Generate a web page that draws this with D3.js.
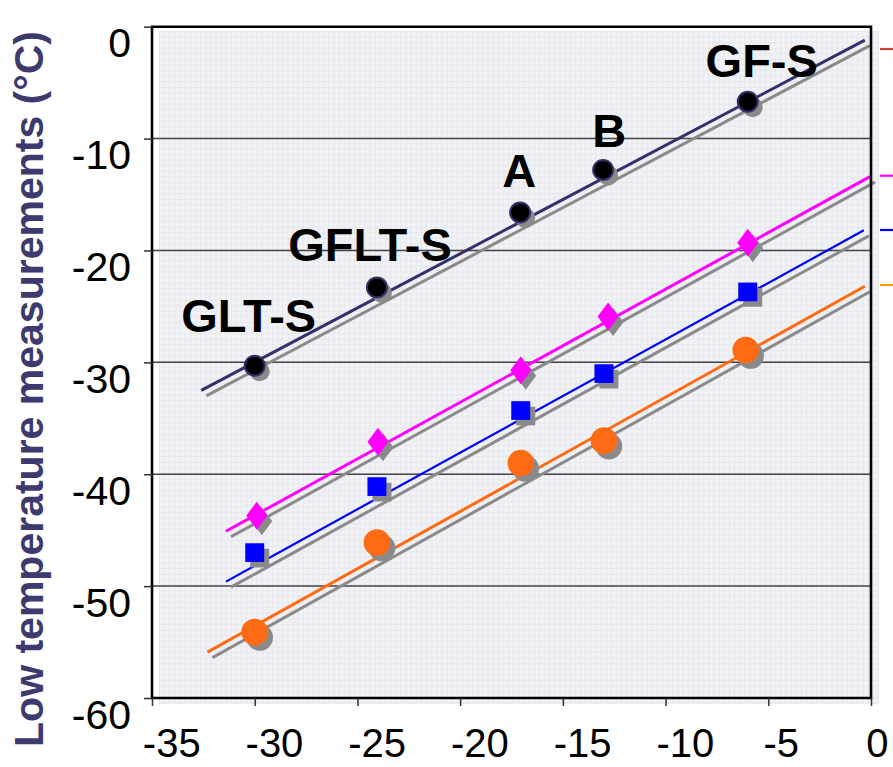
<!DOCTYPE html>
<html>
<head>
<meta charset="utf-8">
<script src="https://cdn.jsdelivr.net/npm/d3@7/dist/d3.min.js"></script>
<style>
  html, body { margin: 0; padding: 0; background: #fff; }
  svg { display: block; }
  text { font-family: "Liberation Sans", Arial, sans-serif; }
</style>
</head>
<body>
<svg id="chart" width="893" height="767"></svg>
<script>
// ---- data ----
const xTicks = [-35, -30, -25, -20, -15, -10, -5, 0];
const yTicks = [0, -10, -20, -30, -40, -50, -60];
const yGrid = [-10, -20, -30, -40, -50];

const pointLabels = ["GLT-S", "GFLT-S", "A", "B", "GF-S"];

const blackX   = [-30.0, -24.05, -17.08, -13.04, -6.0];
const blackY   = [-30.3, -23.3, -16.6, -12.8, -6.7];
const magentaX = [-29.9, -24.0, -17.05, -12.8, -6.0];
const magentaY = [-43.7, -37.1, -30.7, -25.9, -19.3];
const blueX    = [-30.0, -24.05, -17.05, -13.0, -6.0];
const blueY    = [-47.0, -41.1, -34.3, -31.0, -23.7];
const orangeX  = [-30.0, -24.05, -17.05, -13.0, -6.1];
const orangeY  = [-54.1, -46.1, -39.0, -37.0, -28.9];

// trend lines: [x0, y0, x1, y1] in data units
const blackTrend   = [-32.6, -32.5, -0.3, -1.2];
const magentaTrend = [-31.4, -45.1, -0.05, -13.4];
const blueTrend    = [-31.4, -49.6, -0.35, -18.2];
const orangeTrend  = [-32.3, -55.9, -0.3, -23.2];

const legendNames = ["GF-S line", "Series 2", "Series 3", "Series 4"];

// ---- drawing ----
const svg = d3.select("#chart");
const x = d3.scaleLinear().domain([-35, 0]).range([152, 871]);
const y = d3.scaleLinear().domain([-60, 0]).range([698, 26.7]);

// background texture
const defs = svg.append("defs");
const pat = defs.append("pattern").attr("id", "tex")
  .attr("patternUnits", "userSpaceOnUse").attr("width", 10.27).attr("height", 11.19)
  .attr("x", 159).attr("y", 31);
pat.append("rect").attr("width", 10.27).attr("height", 11.19).attr("fill", "#f1f2f5");
pat.append("path").attr("d", "M0,0.5 H10.27 M0.5,0 V11.19 M0,6 H10.27 M5.6,0 V11.19")
  .attr("stroke", "#e3e5ea").attr("stroke-width", 0.8).attr("fill", "none");

svg.append("rect").attr("x", 159).attr("y", 31).attr("width", 720).attr("height", 673)
  .attr("fill", "url(#tex)");

// major gridlines
svg.append("g").selectAll("line").data(yGrid).join("line")
  .attr("x1", x(-35)).attr("x2", x(0))
  .attr("y1", d => y(d)).attr("y2", d => y(d))
  .attr("stroke", "#444").attr("stroke-width", 1.5);

// series definitions
const series = [
  { xs: blackX,   ys: blackY,   trend: blackTrend,   color: "#34306a", lw: 3,   marker: "blackcircle" },
  { xs: magentaX, ys: magentaY, trend: magentaTrend, color: "#ff00ff", lw: 3,   marker: "diamond" },
  { xs: blueX,    ys: blueY,    trend: blueTrend,    color: "#0000ff", lw: 2.2, marker: "square" },
  { xs: orangeX,  ys: orangeY,  trend: orangeTrend,  color: "#ff6a14", lw: 3,   marker: "circle" }
];

const shadowColor = "#8a8a8a";

// trend shadow lines
svg.append("g").attr("transform", "translate(5,5.5)")
  .selectAll("line").data(series).join("line")
  .attr("x1", d => x(d.trend[0])).attr("y1", d => y(d.trend[1]))
  .attr("x2", d => x(d.trend[2])).attr("y2", d => y(d.trend[3]))
  .attr("stroke", shadowColor).attr("stroke-width", 3);

// trend lines
svg.append("g").selectAll("line").data(series).join("line")
  .attr("x1", d => x(d.trend[0])).attr("y1", d => y(d.trend[1]))
  .attr("x2", d => x(d.trend[2])).attr("y2", d => y(d.trend[3]))
  .attr("stroke", d => d.color).attr("stroke-width", d => d.lw);

function drawMarker(g, type, px, py, fill, stroke) {
  if (type === "blackcircle") {
    g.append("circle").attr("cx", px).attr("cy", py).attr("r", 10)
      .attr("fill", fill).attr("stroke", stroke || "none").attr("stroke-width", 2);
  } else if (type === "circle") {
    g.append("circle").attr("cx", px).attr("cy", py).attr("r", 13.3).attr("fill", fill);
  } else if (type === "square") {
    g.append("rect").attr("x", px - 9.5).attr("y", py - 9.3).attr("width", 19).attr("height", 18.7).attr("fill", fill);
  } else if (type === "diamond") {
    g.append("path").attr("d", `M${px},${py - 14} L${px + 10.5},${py} L${px},${py + 14} L${px - 10.5},${py} Z`).attr("fill", fill);
  }
}

// marker shadows
const shadowG = svg.append("g").attr("transform", "translate(5,5.5)");
series.forEach(s => {
  s.xs.forEach((xv, i) => drawMarker(shadowG, s.marker, x(xv), y(s.ys[i]), shadowColor));
});
// markers
const markG = svg.append("g");
series.forEach(s => {
  s.xs.forEach((xv, i) => {
    if (s.marker === "blackcircle") drawMarker(markG, s.marker, x(xv), y(s.ys[i]), "#000", "#34306a");
    else drawMarker(markG, s.marker, x(xv), y(s.ys[i]), s.color);
  });
});

// frame
svg.append("path")
  .attr("d", `M${x(-35)},${y(0)} H${x(0)} V${y(-60)} H${x(-35)} Z`)
  .attr("fill", "none").attr("stroke", "#000").attr("stroke-width", 2.6);

// axes
const fmt = d => String(d);
const yAxis = d3.axisLeft(y).tickValues(yTicks).tickSize(8).tickSizeOuter(0).tickFormat(fmt);
const gy = svg.append("g").attr("transform", `translate(${x(-35)},0)`).call(yAxis);
gy.select(".domain").remove();
gy.selectAll(".tick line").attr("stroke", "#333").attr("stroke-width", 1.5);
gy.selectAll(".tick text")
  .attr("x", -21).attr("y", 30).attr("dy", 0)
  .attr("font-size", 41).attr("fill", "#000").attr("text-anchor", "end")
  .style("font-family", '"Liberation Sans", Arial, sans-serif');

const xAxis = d3.axisBottom(x).tickValues(xTicks).tickSize(8).tickSizeOuter(0).tickFormat(fmt);
const gx = svg.append("g").attr("transform", `translate(0,${y(-60)})`).call(xAxis);
gx.select(".domain").remove();
gx.selectAll(".tick line").attr("stroke", "#333").attr("stroke-width", 1.5);
gx.selectAll(".tick text")
  .attr("x", d => 6.75 * String(d).length - 1).attr("y", 59).attr("dy", 0)
  .attr("font-size", 40).attr("fill", "#000").attr("text-anchor", "middle")
  .style("font-family", '"Liberation Sans", Arial, sans-serif');

// point labels (offsets in px relative to the black points)
const labelOffsets = [[-6, -34], [-7, -26], [-1, -25], [6, -23], [14, -25]];
svg.append("g").selectAll("text").data(pointLabels).join("text")
  .attr("x", (d, i) => x(blackX[i]) + labelOffsets[i][0])
  .attr("y", (d, i) => y(blackY[i]) + labelOffsets[i][1])
  .attr("text-anchor", "middle")
  .attr("font-size", 47).attr("font-weight", "bold").attr("fill", "#000")
  .text(d => d);

// y-axis title
svg.append("text")
  .attr("transform", "translate(43,389) rotate(-90)")
  .attr("text-anchor", "middle")
  .attr("font-size", 41).attr("font-weight", "bold").attr("fill", "#3d3a6e")
  .text("Low temperature measurements (°C)");

// legend (clipped at right edge)
const legendColors = ["#c8423a", "#ff00ff", "#0000ff", "#ff9900"];
const legendY = [49, 175.7, 230, 285];
svg.append("g").selectAll("line").data(legendNames).join("line")
  .attr("x1", 880).attr("x2", 900)
  .attr("y1", (d, i) => legendY[i]).attr("y2", (d, i) => legendY[i])
  .attr("stroke", (d, i) => legendColors[i]).attr("stroke-width", 2.2);
</script>
</body>
</html>
